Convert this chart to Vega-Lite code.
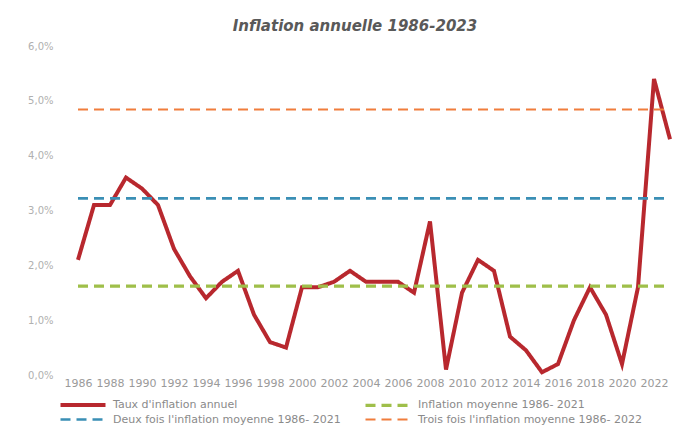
{
  "$schema": "https://vega.github.io/schema/vega-lite/v6.json",
  "width": 608,
  "height": 329,
  "autosize": "none",
  "padding": {"left": 70, "top": 46, "right": 13, "bottom": 50},
  "background": "#ffffff",
  "config": {
    "view": {"stroke": null},
    "locale": {"number": {"decimal": ",", "thousands": " ", "grouping": [3], "currency": ["", " €"]}},
    "font": "DejaVu Sans"
  },
  "title": {
    "text": "Inflation annuelle 1986-2023",
    "fontSize": 15,
    "fontStyle": "italic",
    "fontWeight": "bold",
    "color": "#595959",
    "offset": 7,
    "anchor": "middle",
    "dx": -19
  },
  "data": {
    "values": [
      {"annee": 1986, "valeur": 0.021, "serie": "Taux d'inflation annuel"},
      {"annee": 1987, "valeur": 0.031, "serie": "Taux d'inflation annuel"},
      {"annee": 1988, "valeur": 0.031, "serie": "Taux d'inflation annuel"},
      {"annee": 1989, "valeur": 0.036, "serie": "Taux d'inflation annuel"},
      {"annee": 1990, "valeur": 0.034, "serie": "Taux d'inflation annuel"},
      {"annee": 1991, "valeur": 0.031, "serie": "Taux d'inflation annuel"},
      {"annee": 1992, "valeur": 0.023, "serie": "Taux d'inflation annuel"},
      {"annee": 1993, "valeur": 0.018, "serie": "Taux d'inflation annuel"},
      {"annee": 1994, "valeur": 0.014, "serie": "Taux d'inflation annuel"},
      {"annee": 1995, "valeur": 0.017, "serie": "Taux d'inflation annuel"},
      {"annee": 1996, "valeur": 0.019, "serie": "Taux d'inflation annuel"},
      {"annee": 1997, "valeur": 0.011, "serie": "Taux d'inflation annuel"},
      {"annee": 1998, "valeur": 0.006, "serie": "Taux d'inflation annuel"},
      {"annee": 1999, "valeur": 0.005, "serie": "Taux d'inflation annuel"},
      {"annee": 2000, "valeur": 0.016, "serie": "Taux d'inflation annuel"},
      {"annee": 2001, "valeur": 0.016, "serie": "Taux d'inflation annuel"},
      {"annee": 2002, "valeur": 0.017, "serie": "Taux d'inflation annuel"},
      {"annee": 2003, "valeur": 0.019, "serie": "Taux d'inflation annuel"},
      {"annee": 2004, "valeur": 0.017, "serie": "Taux d'inflation annuel"},
      {"annee": 2005, "valeur": 0.017, "serie": "Taux d'inflation annuel"},
      {"annee": 2006, "valeur": 0.017, "serie": "Taux d'inflation annuel"},
      {"annee": 2007, "valeur": 0.015, "serie": "Taux d'inflation annuel"},
      {"annee": 2008, "valeur": 0.028, "serie": "Taux d'inflation annuel"},
      {"annee": 2009, "valeur": 0.001, "serie": "Taux d'inflation annuel"},
      {"annee": 2010, "valeur": 0.015, "serie": "Taux d'inflation annuel"},
      {"annee": 2011, "valeur": 0.021, "serie": "Taux d'inflation annuel"},
      {"annee": 2012, "valeur": 0.019, "serie": "Taux d'inflation annuel"},
      {"annee": 2013, "valeur": 0.007, "serie": "Taux d'inflation annuel"},
      {"annee": 2014, "valeur": 0.0045, "serie": "Taux d'inflation annuel"},
      {"annee": 2015, "valeur": 0.0005, "serie": "Taux d'inflation annuel"},
      {"annee": 2016, "valeur": 0.002, "serie": "Taux d'inflation annuel"},
      {"annee": 2017, "valeur": 0.010, "serie": "Taux d'inflation annuel"},
      {"annee": 2018, "valeur": 0.016, "serie": "Taux d'inflation annuel"},
      {"annee": 2019, "valeur": 0.011, "serie": "Taux d'inflation annuel"},
      {"annee": 2020, "valeur": 0.002, "serie": "Taux d'inflation annuel"},
      {"annee": 2021, "valeur": 0.016, "serie": "Taux d'inflation annuel"},
      {"annee": 2022, "valeur": 0.054, "serie": "Taux d'inflation annuel"},
      {"annee": 2023, "valeur": 0.043, "serie": "Taux d'inflation annuel"},
      {"annee": 1986, "valeur": 0.0162, "serie": "Inflation moyenne 1986- 2021"},
      {"annee": 2023, "valeur": 0.0162, "serie": "Inflation moyenne 1986- 2021"},
      {"annee": 1986, "valeur": 0.0322, "serie": "Deux fois l'inflation moyenne 1986- 2021"},
      {"annee": 2023, "valeur": 0.0322, "serie": "Deux fois l'inflation moyenne 1986- 2021"},
      {"annee": 1986, "valeur": 0.0484, "serie": "Trois fois l'inflation moyenne 1986- 2022"},
      {"annee": 2023, "valeur": 0.0484, "serie": "Trois fois l'inflation moyenne 1986- 2022"}
    ]
  },
  "mark": {"type": "line", "strokeCap": "butt", "strokeJoin": "miter"},
  "encoding": {
    "x": {
      "field": "annee",
      "type": "quantitative",
      "scale": {"domain": [1985.5, 2023.5], "nice": false, "zero": false},
      "axis": {
        "title": null,
        "values": [1986, 1988, 1990, 1992, 1994, 1996, 1998, 2000, 2002, 2004, 2006, 2008, 2010, 2012, 2014, 2016, 2018, 2020, 2022],
        "format": "d",
        "grid": false,
        "domain": false,
        "ticks": false,
        "labelFontSize": 11,
        "labelColor": "#9a9a9a",
        "labelPadding": 2,
        "labelOverlap": false
      }
    },
    "y": {
      "field": "valeur",
      "type": "quantitative",
      "scale": {"domain": [0, 0.06], "nice": false},
      "axis": {
        "title": null,
        "values": [0, 0.01, 0.02, 0.03, 0.04, 0.05, 0.06],
        "format": ".1%",
        "grid": false,
        "domain": false,
        "ticks": false,
        "labelFontSize": 10,
        "labelColor": "#b0b0b0",
        "labelPadding": 17
      }
    },
    "color": {
      "field": "serie",
      "type": "nominal",
      "scale": {
        "domain": ["Taux d'inflation annuel", "Inflation moyenne 1986- 2021", "Deux fois l'inflation moyenne 1986- 2021", "Trois fois l'inflation moyenne 1986- 2022"],
        "range": ["#b8282e", "#9fbf4a", "#3a8fb5", "#f07d3c"]
      },
      "legend": {
        "title": null,
        "orient": "none",
        "legendX": 7,
        "legendY": 353,
        "direction": "horizontal",
        "columns": 2,
        "columnPadding": 17,
        "rowPadding": 0,
        "symbolType": "M-6,0H6",
        "symbolSize": 56.25,
        "labelOffset": 24,
        "labelFontSize": 11,
        "labelColor": "#8a8a8a",
        "labelLimit": 400
      }
    },
    "strokeDash": {
      "field": "serie",
      "type": "nominal",
      "scale": {
        "domain": ["Taux d'inflation annuel", "Inflation moyenne 1986- 2021", "Deux fois l'inflation moyenne 1986- 2021", "Trois fois l'inflation moyenne 1986- 2022"],
        "range": [[1, 0], [10, 6], [10, 6], [10, 6]]
      }
    },
    "strokeWidth": {
      "field": "serie",
      "type": "nominal",
      "scale": {
        "domain": ["Taux d'inflation annuel", "Inflation moyenne 1986- 2021", "Deux fois l'inflation moyenne 1986- 2021", "Trois fois l'inflation moyenne 1986- 2022"],
        "range": [4, 2, 2, 2]
      }
    }
  }
}
